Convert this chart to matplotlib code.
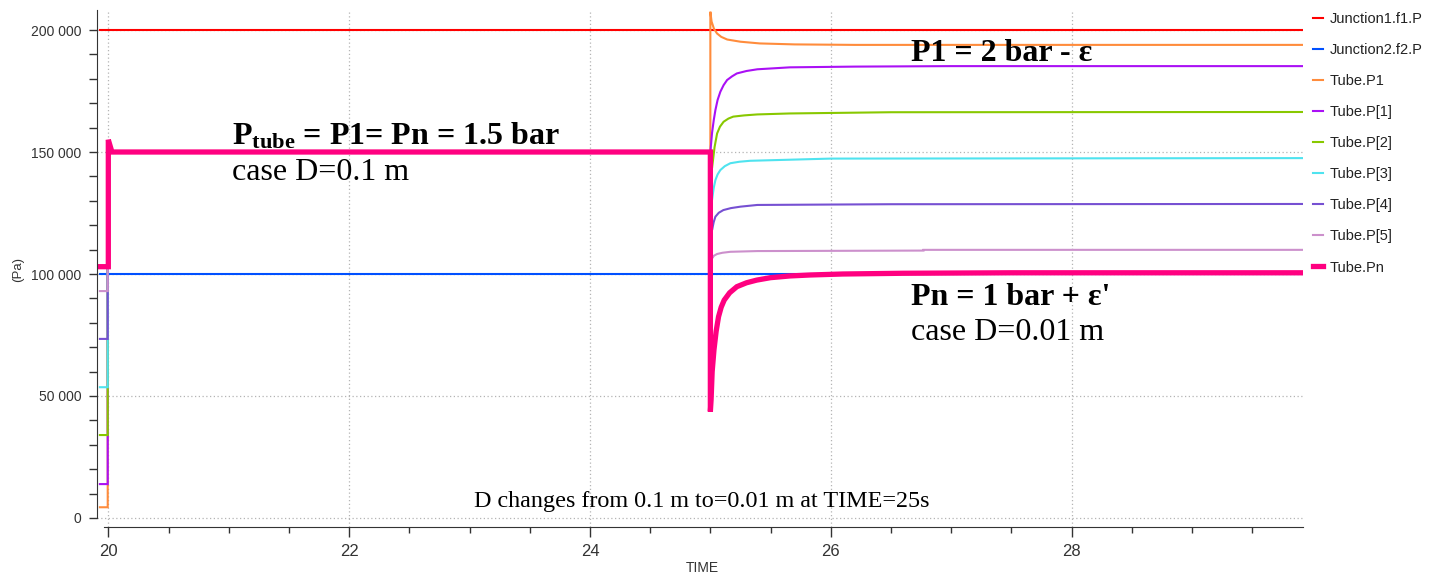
import matplotlib
matplotlib.use("Agg")
import matplotlib.pyplot as plt
from matplotlib import font_manager
from matplotlib.ticker import FuncFormatter, MultipleLocator

# ---- data ----
t_junction = [19.93, 29.925]
p_junction1 = [200000, 200000]
p_junction2 = [100000, 100000]

t_p1 = [19.93, 19.995, 19.995, 25.0, 25.0, 25.01, 25.03, 25.055, 25.09, 25.14, 25.25, 25.41, 25.7, 26.2, 29.925]
p_p1 = [4400, 4400, 150000, 150000, 207500, 203500, 200500, 198600, 197200, 196100, 195200, 194500, 194100, 193900, 193900]

t_pk1 = [19.93, 19.995, 19.995, 25.0, 25.014, 25.028, 25.042, 25.06, 25.083, 25.11, 25.139, 25.18, 25.22, 25.3,
         25.39, 25.66, 26.2, 27.0, 29.925]
p_pk1 = [13900, 13900, 150000, 150000, 157800, 163000, 167200, 171300, 174700, 177400, 179500, 181000, 182200,
         183200, 183900, 184700, 185000, 185200, 185200]

t_pk2 = [19.93, 19.995, 19.995, 25.0, 25.014, 25.035, 25.056, 25.08, 25.11, 25.15, 25.19, 25.28, 25.39, 25.66,
         26.5, 29.925]
p_pk2 = [34000, 34000, 150000, 150000, 143400, 152000, 157600, 160400, 162400, 163700, 164500, 165000, 165400,
         165800, 166300, 166400]

t_pk3 = [19.93, 19.995, 19.995, 25.0, 25.014, 25.028, 25.042, 25.06, 25.083, 25.12, 25.166, 25.24, 25.33, 26.0,
         29.925]
p_pk3 = [53600, 53600, 150000, 150000, 130300, 135300, 138500, 140800, 142600, 144200, 145400, 146000, 146400,
         147300, 147500]

t_pk4 = [19.93, 19.995, 19.995, 25.0, 25.014, 25.028, 25.042, 25.07, 25.108, 25.17, 25.25, 25.39, 26.5, 29.925]
p_pk4 = [73400, 73400, 150000, 150000, 118000, 121300, 123500, 125100, 126200, 127000, 127600, 128300, 128600,
         128700]

t_pk5 = [19.93, 19.995, 19.995, 25.0, 25.014, 25.03, 25.056, 25.1, 25.166, 25.39, 26.77, 26.77, 29.925]
p_pk5 = [93000, 93000, 150000, 150000, 106400, 107500, 108200, 108700, 109100, 109400, 109600, 109900, 109900]

t_pn = [19.93, 20.0, 20.0, 20.03, 25.0, 25.0, 25.006, 25.015, 25.03, 25.048, 25.068, 25.09, 25.115, 25.16, 25.22,
        25.3, 25.385, 25.5, 25.66, 25.83, 26.1, 26.6, 27.5, 29.925]
p_pn = [103000, 103000, 155000, 150000, 150000, 43600, 48400, 60000, 68900, 76500, 82500, 86400, 89300, 92300,
        94800, 96400, 97500, 98500, 99200, 99600, 100000, 100300, 100500, 100500]

series = [
    ("Junction1.f1.P", t_junction, p_junction1, "#ff0000", 1.5),
    ("Junction2.f2.P", t_junction, p_junction2, "#0050ff", 1.5),
    ("Tube.P1", t_p1, p_p1, "#ff8c3c", 1.5),
    ("Tube.P[1]", t_pk1, p_pk1, "#aa10f5", 1.5),
    ("Tube.P[2]", t_pk2, p_pk2, "#88c800", 1.5),
    ("Tube.P[3]", t_pk3, p_pk3, "#4fe3ef", 1.5),
    ("Tube.P[4]", t_pk4, p_pk4, "#7650d2", 1.5),
    ("Tube.P[5]", t_pk5, p_pk5, "#cc90cc", 1.5),
    ("Tube.Pn", t_pn, p_pn, "#ff0080", 3.8),
]

names = {f.name for f in font_manager.fontManager.ttflist}
narrow = "Liberation Sans Narrow" if "Liberation Sans Narrow" in names else "Liberation Sans"

plt.rcParams["font.family"] = ["Liberation Sans", "DejaVu Sans"]
plt.rcParams["mathtext.fontset"] = "custom"
plt.rcParams["mathtext.rm"] = "Liberation Serif"
plt.rcParams["mathtext.bf"] = "Liberation Serif:bold"

fig = plt.figure(figsize=(14.39, 5.76), dpi=100)
ax = fig.add_axes([97 / 1439, 1 - 527 / 576, (1303 - 97) / 1439, (527 - 10) / 576])

for label, t, p, color, lw in series:
    ax.plot(t, p, color=color, lw=lw, label=label, solid_joinstyle="miter")

ax.set_xlim(19.906, 29.922)
ax.set_ylim(-3690, 208200)

ax.xaxis.set_major_locator(MultipleLocator(2))
ax.xaxis.set_minor_locator(MultipleLocator(0.5))
ax.yaxis.set_major_locator(MultipleLocator(50000))
ax.yaxis.set_minor_locator(MultipleLocator(10000))
ax.yaxis.set_major_formatter(FuncFormatter(lambda v, pos: f"{int(v):,}".replace(",", " ")))

ax.grid(True, which="major", color="#b4b4b4", linestyle=(0, (1, 2)), linewidth=0.9)
ax.set_axisbelow(True)

for side in ("top", "right"):
    ax.spines[side].set_visible(False)
ax.spines["left"].set_bounds(0, 208200)
ax.spines["bottom"].set_bounds(19.96, 29.922)
ax.spines["left"].set_color("#333333")
ax.spines["bottom"].set_color("#333333")

ax.tick_params(axis="y", which="major", length=6, width=1, pad=5, labelsize=10, colors="#333333")
ax.tick_params(axis="y", which="minor", length=6, width=1, colors="#333333")
ax.tick_params(axis="x", which="major", length=7, width=1, pad=5, labelsize=12, colors="#333333")
ax.tick_params(axis="x", which="minor", length=4, width=1, colors="#333333")
for lbl in ax.get_xticklabels():
    lbl.set_family(narrow)

fig.text(18 / 1439, 1 - 270 / 576, "(Pa)", rotation=90, ha="center", va="center",
         fontsize=9.5, color="#333333")
fig.text(702 / 1439, 1 - 568 / 576, "TIME", ha="center", va="center",
         fontsize=10, color="#333333", family=narrow)

serif = ["Liberation Serif", "DejaVu Serif"]
ax.text(21.03, 153150, r"$\mathbf{P_{tube}}$ = P1= Pn = 1.5 bar", family=serif,
        fontweight="bold", fontsize=23, va="baseline", ha="left")
ax.text(21.03, 138500, "case D=0.1 m", family=serif, fontsize=23, va="baseline", ha="left")
ax.text(26.67, 187300, "P1 = 2 bar - ε", family=serif, fontweight="bold", fontsize=23,
        va="baseline", ha="left")
ax.text(26.67, 87300, "Pn = 1 bar + ε'", family=serif, fontweight="bold", fontsize=23,
        va="baseline", ha="left")
ax.text(26.67, 72800, "case D=0.01 m", family=serif, fontsize=23, va="baseline", ha="left")
ax.text(24.93, 4600, "D changes from 0.1 m to=0.01 m at TIME=25s", family=serif,
        fontsize=17.4, va="baseline", ha="center")

fig.legend(loc="upper left", bbox_to_anchor=(1313 / 1439, 1 - 12 / 576), frameon=False,
           fontsize=10.5, handlelength=0.7, handletextpad=0.45, labelspacing=1.17,
           borderpad=0, borderaxespad=0, labelcolor="#222222")

fig.savefig("out.png", dpi=100)
